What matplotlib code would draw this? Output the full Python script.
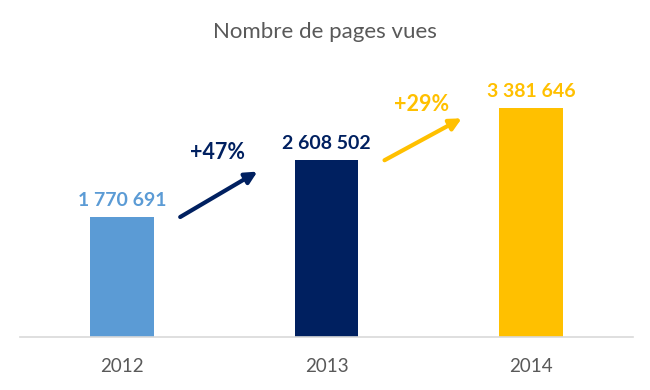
import matplotlib
matplotlib.use("Agg")
import matplotlib.pyplot as plt

categories = ["2012", "2013", "2014"]
values = [1770691, 2608502, 3381646]
value_labels = ["1 770 691", "2 608 502", "3 381 646"]
colors = ["#5B9BD5", "#002060", "#FFC000"]
growth_labels = ["+47%", "+29%"]
title = "Nombre de pages vues"

plt.rcParams['font.family'] = ['Lato', 'DejaVu Sans']

fig = plt.figure(figsize=(6.5, 3.9), dpi=100)
ax = fig.add_axes([20/650, 53/390, 613/650, 0.695])
x = list(range(len(categories)))
ax.bar(x, values, width=0.31, color=colors)
ax.set_xlim(-0.5, 2.5)
ax.set_ylim(0, 4000000)
for s in ["top", "right", "left"]:
    ax.spines[s].set_visible(False)
ax.spines["bottom"].set_color("#D9D9D9")
ax.spines["bottom"].set_linewidth(1.2)
ax.set_yticks([])
ax.set_xticks(x)
ax.set_xticklabels(categories, fontsize=13.5, color="#595959")
ax.tick_params(axis="x", length=0, pad=15)

for xi, v, lab, c in zip(x, values, value_labels, colors):
    ax.text(xi, v + 120000, lab, ha="center", va="bottom", fontsize=14,
            fontweight="bold", color=c)

# growth arrows
label_offsets = [280000, 200000]
for i, g in enumerate(growth_labels):
    c = colors[i + 1]
    y0 = values[i]
    y1 = values[i] + (values[i + 1] - values[i]) * 0.8
    ax.annotate("", xy=(i + 0.662, y1), xytext=(i + 0.284, y0),
                arrowprops=dict(arrowstyle="-|>,head_width=0.35,head_length=0.7",
                                color=c, lw=3, shrinkA=0, shrinkB=0))
    ax.text(i + 0.466, y1 + label_offsets[i], g, ha="center", va="center",
            fontsize=15.5, fontweight="bold", color=c)

fig.text(0.5, 1 - 32/390, title, ha="center", va="center", fontsize=16,
         color="#595959")

fig.savefig("out.png", dpi=100, facecolor="white")
